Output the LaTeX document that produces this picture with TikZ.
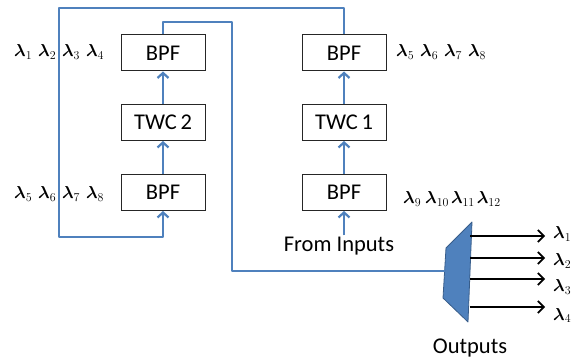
\documentclass[tikz,border=0pt]{standalone}
\usepackage{fontspec}
\usepackage{bm}
\setmainfont{Carlito}
\usetikzlibrary{arrows.meta}
\definecolor{fiber}{HTML}{4F81BD}
\definecolor{dmxfill}{HTML}{4F81BD}
\definecolor{dmxedge}{HTML}{385D8A}
\newcommand{\gp}{\hspace{6pt}}
\newcommand{\wlen}[1]{$\bm{\lambda}_{#1}$}

\begin{document}
\begin{tikzpicture}[x=1pt,y=-1pt,
  blk/.style={draw=black!85, line width=1pt, minimum width=84pt, minimum height=36pt,
              inner sep=0pt, font=\fontsize{22.5}{25}\selectfont},
  fib/.style={draw=fiber, line width=2.2pt},
  fibarrow/.style={fib, -{Straight Barb[length=5pt,width=11pt]}},
  outarrow/.style={draw=black, line width=1.7pt, -{Straight Barb[length=6pt,width=12pt]}},
  lam/.style={font=\fontsize{17}{19}\selectfont, inner sep=0pt, anchor=base west},
  lbl/.style={font=\fontsize{22.5}{25}\selectfont, inner sep=2pt, anchor=base}]
\useasboundingbox (0,0) rectangle (576,358);

% left branch
\node[blk] (ltop) at (163,53) {BPF};
\node[blk] (twc2) at (163,122.5) {TWC\,2};
\node[blk] (lbot) at (163,192.5) {BPF};
% right branch
\node[blk] (rtop) at (344,53) {BPF};
\node[blk] (twc1) at (344,122.5) {TWC\,1};
\node[blk] (rbot) at (344,192.5) {BPF};

% wavelength labels
\node[lam] (wl1) at (14,57) {\wlen{1}\gp\wlen{2}\gp\wlen{3}\gp\wlen{4}};
\node[lam] (wl2) at (14,199) {\wlen{5}\gp\wlen{6}\gp\wlen{7}\gp\wlen{8}};
\node[lam] (wr1) at (396,57) {\wlen{5}\gp\wlen{6}\gp\wlen{7}\gp\wlen{8}};
\node[lam] (wr2) at (403,204) {\wlen{9}\hspace{4pt}\wlen{10}\hspace{2pt}\wlen{11}\hspace{2pt}\wlen{12}};

% input and output captions
\node[lbl] (inputs) at (339,252) {From Inputs};
\node[lbl] (outputs) at (470,353) {Outputs};

% demultiplexer
\coordinate (d1) at (472,222);
\coordinate (d2) at (468,322);
\coordinate (d3) at (443,298);
\coordinate (d4) at (446,248);
\fill[dmxfill] (d1) -- (d2) -- (d3) -- (d4) -- cycle;
\draw[dmxedge, line width=0.8pt, line join=round] (d1) -- (d2) -- (d3) -- (d4) -- cycle;
\coordinate (dmxin) at (444.5,271);

% routing corners
\coordinate (a) at (59,8);
\coordinate (b) at (59,237);
\coordinate (c) at (232,22);
\coordinate (d) at (232,271);

% chain arrows
\draw[fibarrow] (lbot.north) -- (twc2.south);
\draw[fibarrow] (twc2.north) -- (ltop.south);
\draw[fibarrow] (rbot.north) -- (twc1.south);
\draw[fibarrow] (twc1.north) -- (rtop.south);
\draw[fibarrow] (inputs.north -| rbot.south) -- (rbot.south);

% feedback loop from right branch into left branch
\draw[fibarrow, line join=round] (rtop.north) |- (a) -- (b) -| (lbot.south);
% left branch output to demultiplexer
\draw[fib, line join=round] (ltop.north) |- (c) -- (d) -- (dmxin);

% outputs
\foreach \i/\y/\yb in {1/236/239, 2/258/266, 3/279/292, 4/307/320}{
  \coordinate (os\i) at (470,\y);
  \coordinate (oe\i) at (545,\y);
  \draw[outarrow] (os\i) -- (oe\i);
  \node[lam] (ol\i) at (553,\yb) {\wlen{\i}};
}
\end{tikzpicture}
\end{document}
